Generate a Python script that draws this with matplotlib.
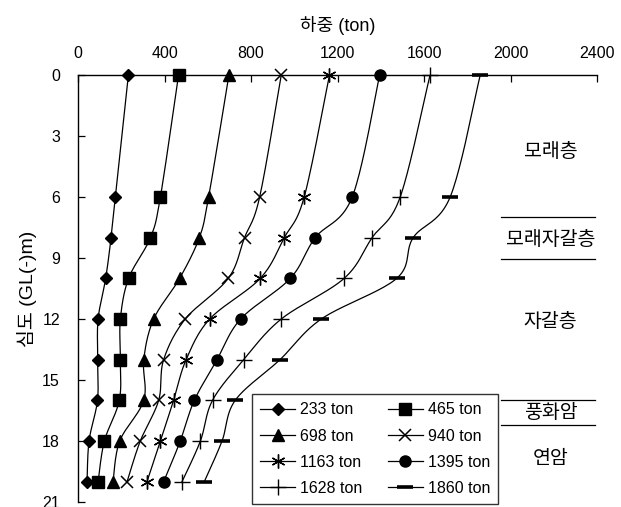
import numpy as np
import matplotlib
matplotlib.use("Agg")
import matplotlib.pyplot as plt
from matplotlib.lines import Line2D

plt.rcParams['font.family'] = ['Liberation Sans', 'Noto Sans CJK KR', 'DejaVu Sans']

# Axial load distribution along the pile for each applied load step
depths = [0, 6, 8, 10, 12, 14, 16, 18, 20]
load_labels = ['233 ton', '465 ton', '698 ton', '940 ton',
               '1163 ton', '1395 ton', '1628 ton', '1860 ton']
load_233 = [233, 173, 153, 128, 93, 91, 90, 51, 42]
load_465 = [465, 381, 335, 234, 196, 196, 191, 122, 93]
load_698 = [698, 604, 561, 470, 350, 304, 304, 193, 162]
load_940 = [940, 840, 770, 695, 496, 396, 373, 288, 227]
load_1163 = [1163, 1046, 954, 843, 609, 500, 442, 381, 319]
load_1395 = [1395, 1268, 1097, 982, 752, 643, 538, 473, 396]
load_1628 = [1628, 1490, 1360, 1231, 940, 766, 622, 566, 481]
load_1860 = [1860, 1721, 1550, 1474, 1125, 934, 727, 666, 584]
series = [load_233, load_465, load_698, load_940,
          load_1163, load_1395, load_1628, load_1860]

x_ticks = [0, 400, 800, 1200, 1600, 2000, 2400]
y_ticks = [0, 3, 6, 9, 12, 15, 18, 21]

# Soil layers: label and the depth at which it is written
layer_names = ['모래층', '모래자갈층', '자갈층', '풍화암', '연암']
layer_label_depths = [3.8, 8.1, 12.15, 16.6, 18.9]
layer_boundaries = [7.0, 9.05, 16.0, 17.2]

styles = [
    dict(marker='D', ms=6),
    dict(marker='s', ms=8),
    dict(marker='^', ms=8),
    dict(marker='x', ms=9, mew=1.1),
    dict(marker=(6, 2, 0), ms=10, mew=1.0),
    dict(marker='o', ms=8),
    dict(marker='+', ms=11, mew=1.0),
    dict(marker='_', ms=11, mew=2.6),
]

fig = plt.figure(figsize=(6.21, 5.07), dpi=100)
ax = fig.add_axes([78 / 621, 1 - 502 / 507, (597 - 78) / 621, (502 - 75) / 507])
ax.set_xlim(0, 2400)
ax.set_ylim(21, 0)


def smooth_path(xs, ys, n=24):
    """Catmull-Rom style smoothing computed in display space."""
    pts = ax.transData.transform(np.column_stack([xs, ys]))
    out = [pts[0]]
    m = len(pts)
    for i in range(m - 1):
        p0 = pts[i - 1] if i > 0 else pts[i]
        p1 = pts[i]
        p2 = pts[i + 1]
        p3 = pts[i + 2] if i + 2 < m else pts[i + 1]
        c1 = p1 + (p2 - p0) / 6.0
        c2 = p2 - (p3 - p1) / 6.0
        t = np.linspace(0, 1, n)[1:, None]
        seg = ((1 - t) ** 3) * p1 + 3 * ((1 - t) ** 2) * t * c1 \
            + 3 * (1 - t) * t ** 2 * c2 + t ** 3 * p2
        out.extend(seg)
    out = np.array(out)
    back = ax.transData.inverted().transform(out)
    return back[:, 0], back[:, 1]


handles = []
for vals, st, lab in zip(series, styles, load_labels):
    sx, sy = smooth_path(vals, depths)
    ax.plot(sx, sy, color='black', lw=0.9, zorder=2)
    ax.plot(vals, depths, linestyle='none', color='black',
            markerfacecolor='black', markeredgecolor='black',
            zorder=3, clip_on=False, **st)
    handles.append(Line2D([], [], color='black', lw=0.9,
                          markerfacecolor='black', markeredgecolor='black',
                          label=lab, **st))

# Axes: top and left spines only, ticks pointing inward
ax.xaxis.tick_top()
ax.xaxis.set_label_position('top')
ax.set_xticks(x_ticks)
ax.set_yticks(y_ticks)
ax.tick_params(axis='both', direction='in', length=5, width=0.9,
               labelsize=11.5)
ax.tick_params(axis='x', pad=10)
ax.tick_params(axis='y', pad=13)
for s in ['right', 'bottom']:
    ax.spines[s].set_visible(False)
for s in ['top', 'left']:
    ax.spines[s].set_linewidth(1.0)
ax.set_xlabel('하중 (ton)', fontsize=13, labelpad=11)
ax.set_ylabel('심도 (GL(-)m)', fontsize=14, labelpad=4)
ax.patch.set_visible(False)

# Layer annotation on the right
for name, d in zip(layer_names, layer_label_depths):
    ax.text(2185, d, name, fontsize=14, ha='center', va='center')
for b in layer_boundaries:
    ax.plot([1955, 2390], [b, b], color='black', lw=0.9)

# Legend laid out row by row (two entries per row)
order = [0, 2, 4, 6, 1, 3, 5, 7]
leg = fig.legend(handles=[handles[i] for i in order], ncol=2, loc='lower left',
                 bbox_to_anchor=(252 / 621, 1 - 504 / 507,
                                 (498 - 252) / 621, (504 - 392) / 507),
                 mode='expand', fontsize=11.5, frameon=True, fancybox=False,
                 edgecolor='black', handlelength=2.2, handletextpad=0.3,
                 labelspacing=0.7, borderaxespad=0, columnspacing=0.8,
                 borderpad=0.5)
leg.get_frame().set_linewidth(1.0)

fig.savefig('out.png', dpi=100)
